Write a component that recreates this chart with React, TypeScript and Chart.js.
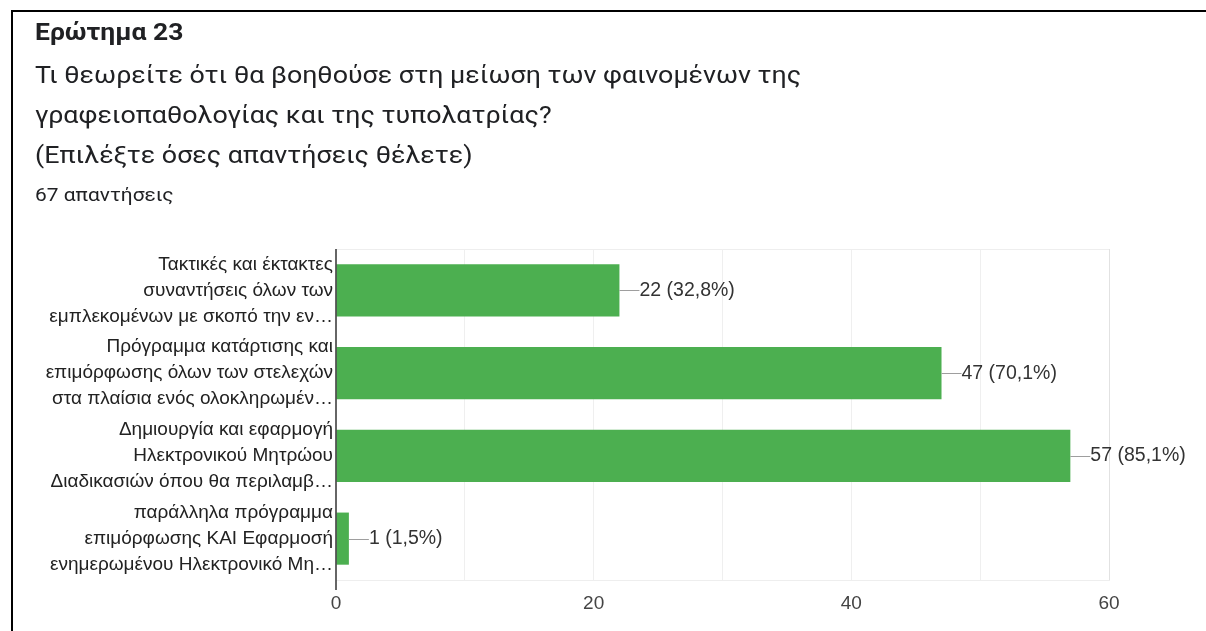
import React, { useEffect, useRef } from "react";
import { Chart, registerables } from "chart.js";

Chart.register(...registerables);

const categories: string[][] = [
  ["Τακτικές και έκτακτες", "συναντήσεις όλων των", "εμπλεκομένων με σκοπό την εν…"],
  ["Πρόγραμμα κατάρτισης και", "επιμόρφωσης όλων των στελεχών", "στα πλαίσια ενός ολοκληρωμέν…"],
  ["Δημιουργία και εφαρμογή", "Ηλεκτρονικού Μητρώου", "Διαδικασιών όπου θα περιλαμβ…"],
  ["παράλληλα πρόγραμμα", "επιμόρφωσης ΚΑΙ Εφαρμοσή", "ενημερωμένου Ηλεκτρονικό Μη…"],
];
const counts: number[] = [22, 47, 57, 1];
const percents: string[] = ["32,8%", "70,1%", "85,1%", "1,5%"];
const xTicksShown: number[] = [0, 20, 40, 60];

const title = "Ερώτημα 23";
const questionLines: string[] = [
  "Τι θεωρείτε ότι θα βοηθούσε στη μείωση των φαινομένων της",
  "γραφειοπαθολογίας και της τυπολατρίας?",
  "(Επιλέξτε όσες απαντήσεις θέλετε)",
];
const responses = "67 απαντήσεις";

const CHART_FONT = "'Liberation Sans', Arial, sans-serif";

const valueLabelPlugin = {
  id: "valueLabels",
  afterDatasetsDraw(chart: any) {
    const ctx = chart.ctx;
    const meta = chart.getDatasetMeta(0);
    ctx.save();
    meta.data.forEach((bar: any, i: number) => {
      const x = bar.x;
      const y = bar.y;
      ctx.strokeStyle = "#9e9e9e";
      ctx.lineWidth = 1;
      ctx.beginPath();
      ctx.moveTo(x, Math.round(y) + 0.5);
      ctx.lineTo(x + 20, Math.round(y) + 0.5);
      ctx.stroke();
      ctx.fillStyle = "#333333";
      ctx.font = `19.5px ${CHART_FONT}`;
      ctx.textBaseline = "middle";
      ctx.textAlign = "left";
      ctx.fillText(`${counts[i]} (${percents[i]})`, x + 20, y);
    });
    const a = chart.chartArea;
    ctx.strokeStyle = "#eeeeee";
    ctx.lineWidth = 1;
    ctx.beginPath();
    ctx.moveTo(a.left, a.top + 0.5);
    ctx.lineTo(a.right, a.top + 0.5);
    ctx.stroke();
    ctx.strokeStyle = "#333333";
    ctx.lineWidth = 1.5;
    ctx.beginPath();
    ctx.moveTo(a.left, a.top);
    ctx.lineTo(a.left, a.bottom + 10);
    ctx.stroke();
    ctx.restore();
  },
};

export default function App() {
  const canvasRef = useRef<HTMLCanvasElement | null>(null);

  useEffect(() => {
    if (!canvasRef.current) return;
    const chart = new Chart(canvasRef.current, {
      type: "bar",
      data: {
        labels: categories,
        datasets: [
          {
            data: counts,
            backgroundColor: "#4caf50",
            borderWidth: 0,
            categoryPercentage: 1,
            barPercentage: 0.63,
          },
        ],
      },
      options: {
        indexAxis: "y",
        animation: false,
        responsive: false,
        maintainAspectRatio: false,
        layout: { padding: { top: 249, right: 97, left: 0, bottom: 0 } },
        plugins: {
          legend: { display: false },
          tooltip: { enabled: false },
        },
        scales: {
          x: {
            min: 0,
            max: 60,
            afterFit: (scale: any) => {
              scale.height = 51;
            },
            ticks: {
              stepSize: 10,
              autoSkip: false,
              maxRotation: 0,
              padding: 12,
              color: "#444444",
              font: { family: CHART_FONT, size: 19 },
              callback: (v: any) => (xTicksShown.includes(Number(v)) ? String(v) : ""),
            },
            grid: {
              drawTicks: false,
              color: (c: any) =>
                c.tick && c.tick.value === 0
                  ? "rgba(0,0,0,0)"
                  : c.tick && c.tick.value === 60
                  ? "#e2e2e2"
                  : "#efefef",
              lineWidth: 1,
            },
            border: { display: true, color: "#eeeeee" },
          },
          y: {
            afterFit: (scale: any) => {
              scale.width = 336;
            },
            ticks: {
              padding: 3,
              color: "#222222",
              autoSkip: false,
              font: { family: CHART_FONT, size: 19, lineHeight: "26px" as any },
            },
            grid: { display: false, drawTicks: false, tickLength: 0 },
            border: { display: false },
          },
        },
      },
      plugins: [valueLabelPlugin],
    });
    return () => chart.destroy();
  }, []);

  const textColor = "#202124";
  const stretch = (sx: number): React.CSSProperties => ({
    transform: `scaleX(${sx})`,
    transformOrigin: "left center",
  });
  return (
    <div style={{ position: "fixed", left: 0, top: 0, width: 1206, height: 631, overflow: "hidden", background: "#fff" }}>
      <div
        style={{
          position: "absolute",
          left: 11,
          top: 10,
          width: 1300,
          height: 700,
          borderTop: "2px solid #000",
          borderLeft: "2px solid #000",
          boxSizing: "border-box",
        }}
      />
      <canvas
        ref={canvasRef}
        width={1206}
        height={631}
        style={{ position: "absolute", left: 0, top: 0, width: 1206, height: 631 }}
      />
      <div
        style={{
          position: "absolute",
          left: 35,
          top: 18,
          fontFamily: "Roboto, sans-serif",
          fontWeight: 700,
          fontSize: 23,
          lineHeight: "30px",
          color: textColor,
          whiteSpace: "nowrap",
          ...stretch(1.15),
        }}
      >
        {title}
      </div>
      {questionLines.map((line, i) => (
        <div
          key={i}
          style={{
            position: "absolute",
            left: 35,
            top: 55 + i * 40,
            fontFamily: "Roboto, sans-serif",
            fontSize: 24,
            lineHeight: "40px",
            color: textColor,
            whiteSpace: "nowrap",
            ...stretch(1.117),
          }}
        >
          {line}
        </div>
      ))}
      <div
        style={{
          position: "absolute",
          left: 35,
          top: 182,
          fontFamily: "Roboto, sans-serif",
          fontSize: 18,
          lineHeight: "26px",
          color: textColor,
          whiteSpace: "nowrap",
          ...stretch(1.16),
        }}
      >
        {responses}
      </div>
    </div>
  );
}
